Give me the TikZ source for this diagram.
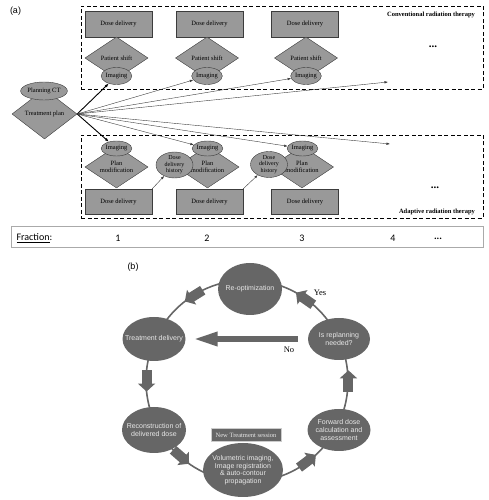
\documentclass[tikz,border=0pt]{standalone}
\usepackage{fontspec}
\setmainfont{Liberation Serif}
\setsansfont{Liberation Sans}
\newfontfamily\fracfont{Carlito}
\usetikzlibrary{arrows.meta, positioning, calc, shapes.geometric}
\definecolor{shapegray}{RGB}{153,153,153}
\definecolor{edgegray}{RGB}{60,60,60}
\definecolor{cyclegray}{RGB}{102,102,102}
\definecolor{cycletext}{RGB}{232,232,232}
\definecolor{barline}{RGB}{170,170,170}
\newcommand{\atext}{\fontsize{6.5pt}{7.2pt}\selectfont}
\newcommand{\btext}{\sffamily\fontsize{7pt}{7.6pt}\selectfont}
\tikzset{
    ddbox/.style={rectangle, fill=shapegray, draw=edgegray, minimum width=67pt, minimum height=26pt, inner sep=0pt, font=\atext},
    ddiam/.style={diamond, aspect=1.5, fill=shapegray, draw=edgegray, minimum width=63pt, minimum height=42pt, inner sep=0pt, align=center, font=\atext},
    imgell/.style={ellipse, fill=shapegray, draw=edgegray, minimum width=29pt, minimum height=17pt, inner sep=0pt, font=\atext},
    histell/.style={ellipse, fill=shapegray, draw=edgegray, minimum width=37pt, minimum height=26pt, inner sep=-3pt, align=center, font=\fontsize{6pt}{6.4pt}\selectfont},
    therapybox/.style={draw=black, thick, dash pattern=on 4pt off 2.5pt, inner sep=0pt},
    moredots/.style={font=\fontsize{11pt}{12pt}\selectfont\bfseries},
    mainarrow/.style={-{Latex[length=4pt,width=3pt]}, line width=0.9pt, draw=black},
    sidearrow/.style={-{Latex[length=3.5pt,width=2.5pt]}, line width=0.4pt, draw=edgegray},
    cyclenode/.style={ellipse, fill=cyclegray, text=cycletext, inner sep=-8pt, align=center, font=\btext},
    cycleshaft/.style={-{Triangle[length=8pt,width=17pt]}, line width=10pt, draw=cyclegray},
    noarrow/.style={-{Triangle[length=25pt,width=13pt]}, line width=6pt, draw=cyclegray}
}
\begin{document}
\begin{tikzpicture}[x=1pt, y=1pt]
    \useasboundingbox (0,0) rectangle (489,500);
    % Part (a)
    \node[font=\sffamily\fontsize{9pt}{10pt}\selectfont] (labela) at (15.5,489) {(a)};
    \node[therapybox, minimum width=402pt, minimum height=83pt] (convbox) at (282,452.5) {};
    \node[therapybox, minimum width=402pt, minimum height=83pt] (adaptbox) at (282,323.5) {};
    \node[font=\atext\bfseries, anchor=east] (convlabel) at ([xshift=-5pt, yshift=-9pt]convbox.north east) {Conventional radiation therapy};
    \node[font=\atext\bfseries, anchor=east] (adaptlabel) at ([xshift=-5pt, yshift=6pt]adaptbox.south east) {Adaptive radiation therapy};
    \node[moredots] (convdots) at (433,453) {...};
    \node[moredots] (adaptdots) at (435,312) {...};

    % Conventional fractions
    \node[ddbox] (dose1) at (118.5,476) {Dose delivery};
    \node[ddbox] (dose2) at (209.5,476) {Dose delivery};
    \node[ddbox] (dose3) at (305,476) {Dose delivery};
    \node[ddiam] (shift1) at (116.5,442) {Patient shift};
    \node[ddiam] (shift2) at (207,442) {Patient shift};
    \node[ddiam] (shift3) at (306,442) {Patient shift};
    \node[imgell] (img1) at (116.5,424) {Imaging};
    \node[imgell] (img2) at (207,424) {Imaging};
    \node[imgell] (img3) at (306,424) {Imaging};

    % Adaptive fractions
    \node[ddbox, minimum height=25pt] (adose1) at (118.5,298.5) {Dose delivery};
    \node[ddbox, minimum height=25pt] (adose2) at (209.5,298.5) {Dose delivery};
    \node[ddbox, minimum height=25pt] (adose3) at (305,298.5) {Dose delivery};
    \node[ddiam] (modif1) at (116.5,333) {Plan\\modification};
    \node[ddiam] (modif2) at (207.5,333) {Plan\\modification};
    \node[ddiam] (modif3) at (302,333) {Plan\\modification};
    \node[imgell, minimum height=15pt] (aimg1) at (116.5,351.5) {Imaging};
    \node[imgell, minimum height=15pt] (aimg2) at (207.5,351.5) {Imaging};
    \node[imgell, minimum height=15pt] (aimg3) at (302.5,351.5) {Imaging};
    \node[histell] (hist1) at (174.5,335) {Dose\\delivery\\history};
    \node[histell] (hist2) at (269,335.5) {Dose\\delivery\\history};
    \draw[sidearrow] (adose1.north east) -- (hist1);
    \draw[sidearrow] (adose2.north east) -- (hist2);

    % Planning
    \node[ddiam, minimum width=65pt, minimum height=50pt, aspect=1.3] (tplan) at (44.5,386) {Treatment plan};
    \node[imgell, minimum width=42pt, minimum height=18pt] (planct) at (44,409) {Planning CT};
    \coordinate (convend) at (388,418);
    \coordinate (adaptend) at (390,356);
    \draw[mainarrow] (tplan.east) -- (img1);
    \draw[sidearrow] (tplan.east) -- (img2);
    \draw[sidearrow] (tplan.east) -- (img3);
    \draw[sidearrow] (tplan.east) -- (convend);
    \draw[mainarrow] (tplan.east) -- (aimg1);
    \draw[sidearrow] (tplan.east) -- (aimg2);
    \draw[sidearrow] (tplan.east) -- (aimg3);
    \draw[sidearrow] (tplan.east) -- (adaptend);

    % Fraction bar
    \node[draw=barline, minimum width=472pt, minimum height=21pt, inner sep=0pt] (fracbar) at (247,263.5) {};
    \node[font=\fracfont\fontsize{10pt}{11pt}\selectfont, anchor=west] (fraclabel) at (13,262) {\underline{Fraction}:};
    \node[font=\fracfont\fontsize{10pt}{11pt}\selectfont] (frac1) at (118,262) {1};
    \node[font=\fracfont\fontsize{10pt}{11pt}\selectfont] (frac2) at (207,262) {2};
    \node[font=\fracfont\fontsize{10pt}{11pt}\selectfont] (frac3) at (302,262) {3};
    \node[font=\fracfont\fontsize{10pt}{11pt}\selectfont] (frac4) at (393,262) {4};
    \node[font=\fracfont\fontsize{10pt}{11pt}\selectfont\bfseries] (fracdots) at (438,261) {...};

    % Part (b)
    \node[font=\sffamily\fontsize{9pt}{10pt}\selectfont] (labelb) at (133,233) {(b)};
    \coordinate (ringc) at (247,119);
    \draw[line width=1.6pt, draw=cyclegray] (ringc) circle[radius=101pt];
    \node[cyclenode, minimum width=64pt, minimum height=52pt] (reopt) at (250,211) {Re-optimization};
    \node[cyclenode, minimum width=63pt, minimum height=44pt] (tdel) at (154,161) {Treatment delivery};
    \node[cyclenode, minimum width=62pt, minimum height=42pt] (replan) at (339,161) {Is replanning\\needed?};
    \node[cyclenode, minimum width=64pt, minimum height=46pt] (recon) at (154,70) {Reconstruction of\\delivered dose};
    \node[cyclenode, minimum width=63pt, minimum height=42pt] (fwd) at (339,70) {Forward dose\\calculation and\\assessment};
    \node[cyclenode, minimum width=80pt, minimum height=54pt] (volim) at (243,30) {Volumetric imaging,\\Image registration\\\& auto-contour\\propagation};
    \node[fill=cyclegray, draw=gray!40, text=cycletext, minimum width=70pt, minimum height=13pt, inner sep=0pt, font=\atext] (newsess) at (246,65) {New Treatment session};

    % Cycle arrows
    \draw[cycleshaft] ($(ringc)+(116:101pt)$) -- ($(ringc)+(128:101pt)$);
    \draw[cycleshaft] ($(ringc)+(174:101pt)$) -- ($(ringc)+(186:101pt)$);
    \draw[cycleshaft] ($(ringc)+(223:101pt)$) -- ($(ringc)+(235:101pt)$);
    \draw[cycleshaft] ($(ringc)+(301:101pt)$) -- ($(ringc)+(313:101pt)$);
    \draw[cycleshaft] ($(ringc)+(-6:102pt)$) -- ($(ringc)+(6:102pt)$);
    \draw[cycleshaft] ($(ringc)+(49:101pt)$) -- ($(ringc)+(61:101pt)$);
    \draw[noarrow, shorten <=10pt, shorten >=7pt] (replan.west) -- (tdel.east);
    \node[font=\fontsize{8.5pt}{9pt}\selectfont] (yeslabel) at (320,207) {Yes};
    \node[font=\fontsize{8.5pt}{9pt}\selectfont] (nolabel) at (289,150) {No};
\end{tikzpicture}
\end{document}
